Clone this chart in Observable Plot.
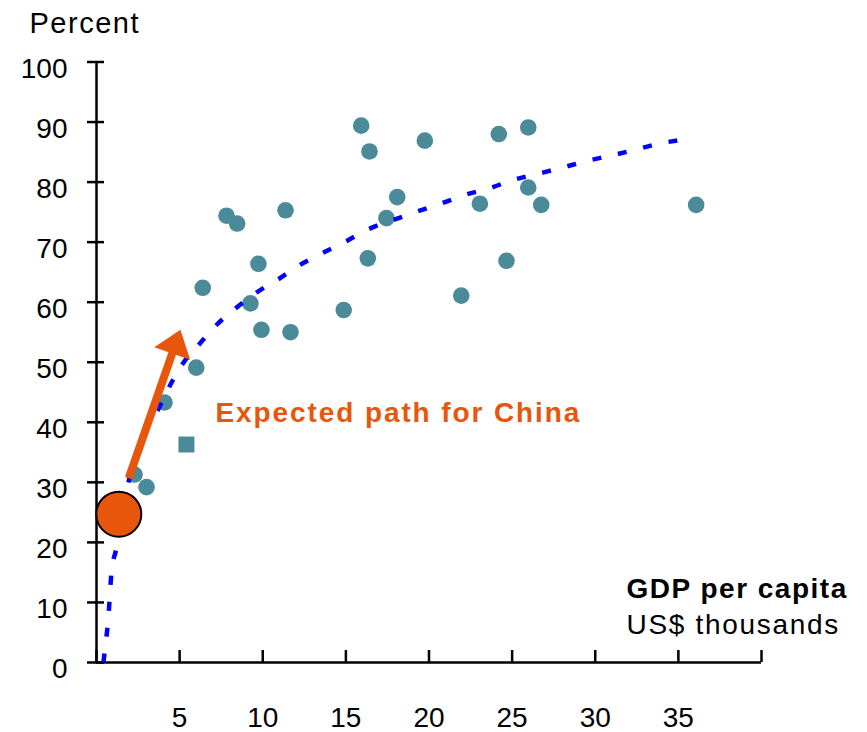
<!DOCTYPE html>
<html>
<head>
<meta charset="utf-8">
<script src="https://cdn.jsdelivr.net/npm/d3@7"></script>
<script src="https://cdn.jsdelivr.net/npm/@observablehq/plot@0.6"></script>
<style>
  html, body { margin: 0; padding: 0; background: #fff; }
  #chart svg { display: block; }
</style>
</head>
<body>
<div id="chart"></div>
<script>
// Urban population share (percent) against GDP per capita (US$ thousands)
const countryGdp = [15.92, 16.42, 19.75, 18.09, 17.44, 7.82, 8.46, 11.37, 9.74, 16.32,
                    6.39, 9.26, 14.87, 9.92, 11.67, 24.2, 25.97, 25.97, 23.06, 26.75,
                    36.07, 24.66, 21.94, 6.0, 4.09, 2.29, 3.01];
const countryUrban = [89.4, 85.1, 86.9, 77.5, 74.0, 74.4, 73.1, 75.3, 66.4, 67.3,
                      62.4, 59.8, 58.7, 55.4, 55.0, 88.0, 89.1, 79.1, 76.4, 76.2,
                      76.2, 66.9, 61.1, 49.1, 43.3, 31.3, 29.2];

// Highlighted economy drawn as a square
const squareGdp = [5.41];
const squareUrban = [36.3];

// China today
const chinaGdp = [1.34];
const chinaUrban = [24.7];

// Fitted trend curve
const trendGdp = [0.42, 0.54, 0.70, 0.80, 0.90, 1.20, 1.97, 3.85, 4.49, 5.25, 6.21, 7.36,
                  8.56, 9.62, 10.93, 12.17, 13.53, 14.98, 16.39, 17.85, 19.39, 20.79,
                  22.2, 23.66, 25.1, 26.57, 28.01, 29.46, 30.92, 32.28, 33.68, 35.3];
const trendUrban = [0, 3.0, 7.0, 11.0, 15.0, 19.0, 30.6, 42.9, 46.5, 50.0, 53.1, 56.6,
                    59.4, 61.6, 63.8, 66.1, 68.1, 70.1, 72.2, 73.7, 75.2, 76.5,
                    77.9, 79.0, 80.4, 81.4, 82.4, 83.5, 84.4, 85.3, 86.3, 87.1];

// Expected path for China: start and end of the arrow
const pathGdp = [1.94, 5.05];
const pathUrban = [30.7, 55.4];

// Axis ticks
const yTicks = [0, 10, 20, 30, 40, 50, 60, 70, 80, 90, 100];
const xTicks = [0, 5, 10, 15, 20, 25, 30, 35, 40];
const xTickLabels = [5, 10, 15, 20, 25, 30, 35];

const annotation = "Expected path for China";
const annotationGdp = 7.16;
const annotationUrban = 41.5;

// ---- layout and styles ----
const W = 867, H = 732;
const margin = {top: 61.5, right: 106, bottom: 70, left: 96};
const xDomain = [0, 40], yDomain = [0, 100];
const teal = "#4a8a99", orange = "#e8560c", blue = "#0000ff";
const font = "'Liberation Sans', Arial, Helvetica, sans-serif";

const countries = countryGdp.map((x, i) => ({x, y: countryUrban[i]}));
const squares = squareGdp.map((x, i) => ({x, y: squareUrban[i]}));
const china = chinaGdp.map((x, i) => ({x, y: chinaUrban[i]}));
const trend = trendGdp.map((x, i) => ({x, y: trendUrban[i]}));

// Standalone scales, used to orient the filled arrowhead in screen space
const xs = Plot.scale({x: {domain: xDomain, range: [margin.left, W - margin.right]}});
const ys = Plot.scale({y: {domain: yDomain, range: [H - margin.bottom, margin.top]}});
const p0 = [xs.apply(pathGdp[0]), ys.apply(pathUrban[0])];
const p1 = [xs.apply(pathGdp[1]), ys.apply(pathUrban[1])];
const len = Math.hypot(p1[0] - p0[0], p1[1] - p0[1]);
const ux = (p1[0] - p0[0]) / len, uy = (p1[1] - p0[1]) / len;
const headLen = 25, headHalf = 19;
const shaftEnd = {
  x: xs.invert(p1[0] - ux * (headLen - 3)),
  y: ys.invert(p1[1] - uy * (headLen - 3))
};
const arrowHead = {
  draw(context) {
    // tip at the origin, base pulled back along the path direction
    const bx = -ux * headLen, by = -uy * headLen;
    const nx = -uy * headHalf, ny = ux * headHalf;
    context.moveTo(0, 0);
    context.lineTo(bx + nx, by + ny);
    context.lineTo(bx - nx, by - ny);
    context.closePath();
  }
};

const chart = Plot.plot({
  width: W,
  height: H,
  marginTop: margin.top,
  marginRight: margin.right,
  marginBottom: margin.bottom,
  marginLeft: margin.left,
  x: {domain: xDomain},
  y: {domain: yDomain},
  style: {fontFamily: font, fontSize: "28px", color: "#000", background: "#fff", overflow: "visible"},
  marks: [
    // axis lines
    Plot.ruleX([0], {strokeWidth: 2.5}),
    Plot.ruleY([0], {strokeWidth: 2.5}),
    // y ticks crossing the axis, and their labels
    Plot.axisY({ticks: yTicks, tickSize: 17, dx: 8, fill: "none", strokeWidth: 2.5, label: null}),
    Plot.axisY({ticks: yTicks, tickSize: 0, tickPadding: 29, dy: 7, fontSize: 28, label: null}),
    // x ticks pointing up, labels well below
    Plot.axisX({ticks: xTicks, tickSize: 12, dy: -12, fill: "none", strokeWidth: 2.5, label: null}),
    Plot.axisX({ticks: xTickLabels, tickSize: 0, tickPadding: 45, fontSize: 28, label: null}),

    // economies
    Plot.dot(countries, {x: "x", y: "y", r: 8.3, fill: teal}),
    Plot.dot(squares, {x: "x", y: "y", r: 9, symbol: "square", fill: teal}),

    // trend
    Plot.line(trend, {x: "x", y: "y", stroke: blue, strokeWidth: 4.5,
      strokeDasharray: "9,17", strokeLinecap: "butt", curve: "monotone-x"}),

    // China
    Plot.dot(china, {x: "x", y: "y", r: 22.5, fill: orange, stroke: "#000", strokeWidth: 2}),

    // expected path arrow
    Plot.link([{x1: pathGdp[0], y1: pathUrban[0], x2: shaftEnd.x, y2: shaftEnd.y}],
      {x1: "x1", y1: "y1", x2: "x2", y2: "y2", stroke: orange, strokeWidth: 8}),
    Plot.dot([{x: pathGdp[1], y: pathUrban[1]}],
      {x: "x", y: "y", symbol: arrowHead, fill: orange, stroke: "none"}),

    Plot.text([annotation], {x: annotationGdp, y: annotationUrban, text: d => d,
      textAnchor: "start", lineAnchor: "middle", fill: orange, fontWeight: "bold", fontSize: 28}),

    // titles
    Plot.text(["Percent"], {frameAnchor: "top-left", text: d => d, textAnchor: "start",
      lineAnchor: "middle", dx: -67, dy: -38.5, fontSize: 29}),
    Plot.text(["GDP per capita"], {frameAnchor: "bottom-right", text: d => d, textAnchor: "start",
      lineAnchor: "middle", dx: -135, dy: -73.7, fontSize: 28, fontWeight: "bold"}),
    Plot.text(["US$ thousands"], {frameAnchor: "bottom-right", text: d => d, textAnchor: "start",
      lineAnchor: "middle", dx: -135, dy: -37.5, fontSize: 28})
  ]
});

// slightly wider tracking on the word labels
const tracking = new Map([["Percent", 1.5], ["GDP per capita", 1.5], ["US$ thousands", 1.7], [annotation, 1.9]]);
d3.select(chart).selectAll("text")
  .filter(function() { return tracking.has(this.textContent); })
  .attr("letter-spacing", function() { return tracking.get(this.textContent) + "px"; });

document.getElementById("chart").append(chart);
</script>
</body>
</html>
